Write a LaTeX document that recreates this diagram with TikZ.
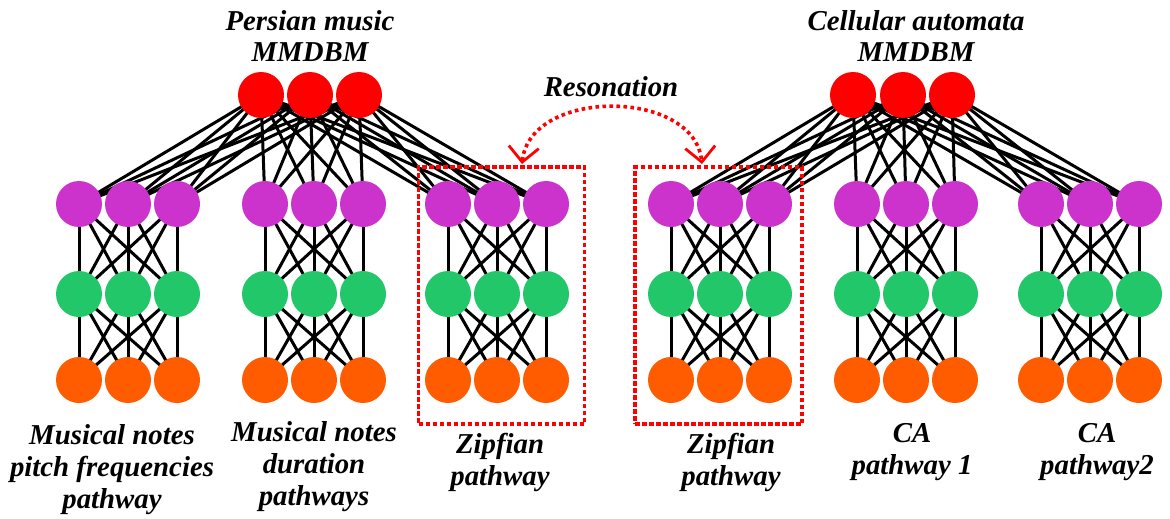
\documentclass[tikz,border=0pt]{standalone}
\usepackage{fontspec}
\setmainfont{Liberation Serif}
\usetikzlibrary{arrows.meta,backgrounds}
\definecolor{topred}{HTML}{FF0000}
\definecolor{hidmag}{HTML}{CC33CC}
\definecolor{hidgreen}{HTML}{22C76A}
\definecolor{visorange}{HTML}{FF5C00}

\begin{document}
\begin{tikzpicture}[x=1pt,y=1pt,
  unit/.style={circle,minimum size=46pt,inner sep=0pt,draw=none},
  toprow/.style={unit,fill=topred},
  magrow/.style={unit,fill=hidmag},
  greenrow/.style={unit,fill=hidgreen},
  orangerow/.style={unit,fill=visorange},
  wire/.style={line width=3pt,black},
  lbl/.style={font=\fontsize{28.8}{32}\selectfont\bfseries\itshape,align=center,inner sep=0pt,anchor=base},
  zipbox/.style={draw=red,line width=3.4pt,dash pattern=on 4.5pt off 2.5pt},
  reson/.style={draw=red,line width=3.6pt,dash pattern=on 3.6pt off 3.4pt,
    {Straight Barb[length=15pt,width=30pt,line width=2.8pt]}-{Straight Barb[length=15pt,width=30pt,line width=2.8pt]}}
]
\useasboundingbox (0,0) rectangle (1170,-519);

% the two top layers
\foreach \i/\x in {1/261,2/310,3/359} \node[toprow] (L\i) at (\x,-95) {};
\foreach \i/\x in {1/853,2/903,3/952} \node[toprow] (R\i) at (\x,-95) {};

% six pathways, three layers each
\foreach \g/\c in {1/128,2/314,3/497,4/720,5/906,6/1090} {
  \foreach \j in {1,2,3} {
    \pgfmathsetmacro{\xx}{\c+49*(\j-2)}
    \node[magrow]    (p\g m\j) at (\xx,-204) {};
    \node[greenrow]  (p\g g\j) at (\xx,-294) {};
    \node[orangerow] (p\g o\j) at (\xx,-380) {};
  }
}

% connections behind the units
\begin{scope}[on background layer]
  \foreach \i in {1,2,3} \foreach \g in {1,2,3} \foreach \j in {1,2,3}
    \draw[wire] (L\i.center) -- (p\g m\j.center);
  \foreach \i in {1,2,3} \foreach \g in {4,5,6} \foreach \j in {1,2,3}
    \draw[wire] (R\i.center) -- (p\g m\j.center);
  \foreach \g in {1,...,6} \foreach \i in {1,2,3} \foreach \j in {1,2,3} {
    \draw[wire] (p\g m\i.center) -- (p\g g\j.center);
    \draw[wire] (p\g g\i.center) -- (p\g o\j.center);
  }
\end{scope}

% Zipfian pathway frames
\node[zipbox,minimum width=166pt,minimum height=257pt,inner sep=0pt] (zl) at (501.5,-295.5) {};
\node[zipbox,minimum width=167pt,minimum height=257pt,inner sep=0pt] (zr) at (718.5,-295.5) {};

% resonation link between the frames
\coordinate (rl) at (522,-164);
\coordinate (rr) at (702,-164);
\draw[reson] (rl) .. controls (530,-88) and (694,-88) .. (rr);

% labels (anchored at the baseline of their last line)
\node[lbl] (tPM) at (310,-62) {Persian music\\MMDBM};
\node[lbl] (tCA) at (916,-62) {Cellular automata\\MMDBM};
\node[lbl] (tRes) at (611,-96) {Resonation};
\node[lbl] (b1) at (112,-508) {Musical notes\\pitch frequencies\\pathway};
\node[lbl] (b2) at (314,-505) {Musical notes\\duration\\pathways};
\node[lbl] (b3) at (500,-485) {Zipfian\\pathway};
\node[lbl] (b4) at (731,-485) {Zipfian\\pathway};
\node[lbl] (b5) at (912,-474) {CA\\pathway 1};
\node[lbl] (b6) at (1097,-474) {CA\\pathway2};
\end{tikzpicture}
\end{document}
